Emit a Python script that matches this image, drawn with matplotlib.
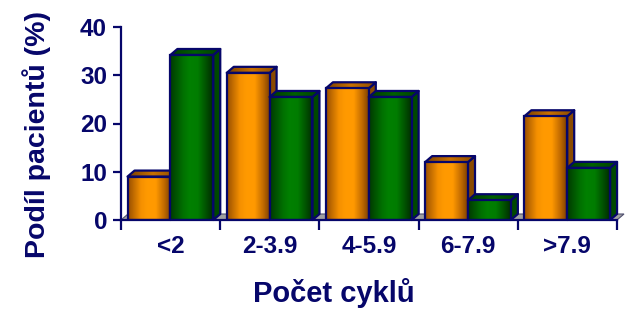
import numpy as np
import matplotlib
matplotlib.use("Agg")
import matplotlib.pyplot as plt
from matplotlib.patches import Polygon
from matplotlib.colors import to_rgb

# ---- data ----
categories = ["<2", "2-3.9", "4-5.9", "6-7.9", ">7.9"]
series_orange = [9, 30.5, 27.3, 12, 21.5]
series_green = [34.2, 25.5, 25.5, 4.1, 10.8]
y_ticks = [0, 10, 20, 30, 40]
y_label = "Podíl pacientů (%)"
x_label = "Počet cyklů"

NAVY = "#06066a"
W, H = 627, 309
plt.rcParams['font.family'] = ['Liberation Sans', 'DejaVu Sans']
plt.rcParams['font.weight'] = 'bold'

fig = plt.figure(figsize=(W / 100, H / 100), dpi=100)
ax_l, ax_r, ax_t, ax_b = 121, 617, 27, 220
ax = fig.add_axes([ax_l / W, 1 - ax_b / H, (ax_r - ax_l) / W, (ax_b - ax_t) / H])
ax.set_xlim(0, len(categories))
ax.set_ylim(0, 40)

px_x = (ax_r - ax_l) / len(categories)   # pixels per category unit
px_y = (ax_b - ax_t) / 40.0               # pixels per y unit
dx = 7 / px_x
dy = 6 / px_y


def gradient(stops, n=64):
    pos = np.array([s[0] for s in stops])
    cols = np.array([to_rgb(s[1]) for s in stops])
    t = np.linspace(0, 1, n)
    arr = np.stack([np.interp(t, pos, cols[:, k]) for k in range(3)], axis=-1)
    return arr[np.newaxis, :, :]


orange_front = gradient([(0, "#9a5000"), (0.3, "#f59000"), (0.45, "#ff9a00"),
                         (0.65, "#ff9900"), (0.85, "#c06a00"), (1, "#804000")])
green_front = gradient([(0, "#003a00"), (0.3, "#007000"), (0.45, "#008000"),
                        (0.65, "#007c00"), (0.85, "#005000"), (1, "#002c00")])
orange_side = "#8a4a00"
green_side = "#004800"
orange_top = gradient([(0, "#7a4000"), (0.5, "#c87000"), (1, "#8a4a00")])
green_top = gradient([(0, "#003a00"), (0.5, "#006000"), (1, "#004000")])

# floor
floor = Polygon([(0, 0), (len(categories), 0), (len(categories) + dx, dy), (dx, dy)],
                closed=True, facecolor="#a0a0a0", edgecolor="#505070", lw=0.8,
                zorder=1, clip_on=False)
ax.add_patch(floor)

bar_w = 0.432
start = 0.066
lw = 1.6
z = 2
for i in range(len(categories)):
    for j, (vals, front, side, top) in enumerate([
            (series_orange, orange_front, orange_side, orange_top),
            (series_green, green_front, green_side, green_top)]):
        x0 = i + start + j * bar_w
        h = vals[i]
        bars = ax.bar([x0], [h], width=bar_w, align='edge', facecolor='none',
                      edgecolor=NAVY, lw=lw, zorder=z + 0.5)
        rect = bars.patches[0]
        im = ax.imshow(front, extent=(x0, x0 + bar_w, 0, h), aspect='auto',
                       interpolation='bilinear', zorder=z, origin='lower')
        im.set_clip_path(rect)
        x1 = x0 + bar_w
        side_poly = Polygon([(x1, 0), (x1, h), (x1 + dx, h + dy), (x1 + dx, dy)],
                            closed=True, facecolor=side, edgecolor=NAVY, lw=lw,
                            zorder=z - 0.3, clip_on=False, joinstyle='round')
        ax.add_patch(side_poly)
        top_poly = Polygon([(x0, h), (x1, h), (x1 + dx, h + dy), (x0 + dx, h + dy)],
                           closed=True, facecolor='none', edgecolor=NAVY, lw=lw,
                           zorder=z - 0.1, clip_on=False, joinstyle='round')
        ax.add_patch(top_poly)
        tim = ax.imshow(top, extent=(x0, x1 + dx, h, h + dy), aspect='auto',
                        interpolation='bilinear', zorder=z - 0.2, origin='lower')
        tim.set_clip_path(top_poly)
        tim.set_clip_on(True)
        z += 1

ax.set_xlim(0, len(categories))
ax.set_ylim(0, 40)

for s in ["top", "right"]:
    ax.spines[s].set_visible(False)
for s in ["left", "bottom"]:
    ax.spines[s].set_color(NAVY)
    ax.spines[s].set_linewidth(1.6)
    ax.spines[s].set_zorder(50)

ax.set_yticks(y_ticks)
ax.set_yticklabels([str(v) for v in y_ticks])
ax.tick_params(axis='y', direction='out', length=6, width=1.6, color=NAVY,
               labelcolor=NAVY, labelsize=17.5, pad=4)
ax.set_xticks(np.arange(len(categories) + 1))
ax.set_xticklabels([])
ax.set_xticks(np.arange(len(categories)) + 0.5, minor=True)
ax.set_xticklabels(categories, minor=True)
ax.tick_params(axis='x', which='major', direction='out', length=7, width=1.6,
               color=NAVY)
ax.tick_params(axis='x', which='minor', length=0, labelcolor=NAVY,
               labelsize=17.5, pad=11)
for lab in ax.get_xticklabels(minor=True) + ax.get_yticklabels():
    lab.set_fontweight('bold')

fig.text(45 / W, 1 - 134 / H, y_label, rotation=90, rotation_mode='anchor',
         ha='center', va='baseline', color=NAVY, fontsize=20.5, fontweight='bold')
fig.text(334 / W, 1 - 302 / H, x_label, ha='center', va='baseline',
         color=NAVY, fontsize=21, fontweight='bold')

fig.savefig("out.png", dpi=100)
